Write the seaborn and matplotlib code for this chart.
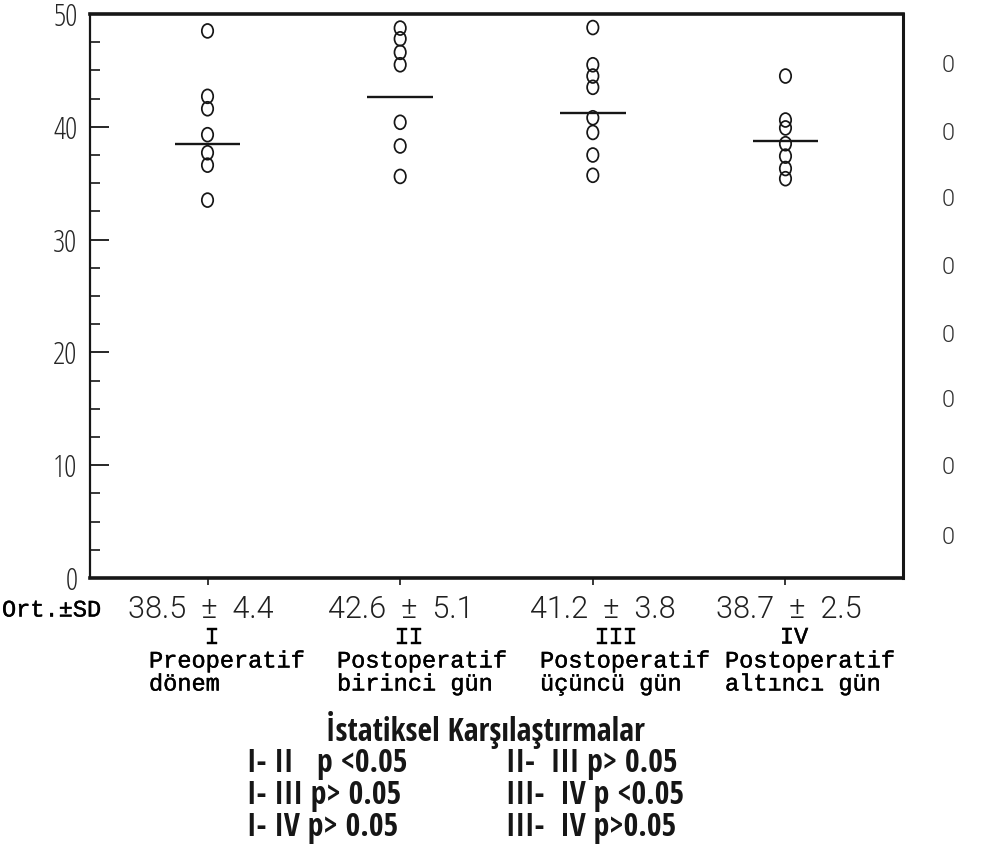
import numpy as np
import pandas as pd
import matplotlib
matplotlib.use("Agg")
import matplotlib.pyplot as plt
import matplotlib.transforms as mtrans
import matplotlib.patheffects as pe
from matplotlib import font_manager as fm
from matplotlib.path import Path
from matplotlib.ticker import MultipleLocator
import seaborn as sns

# ---------------- data ----------------
groups = ["I", "II", "III", "IV"]
vals_I = [48.5, 42.7, 41.6, 39.3, 37.7, 36.6, 33.5]
vals_II = [48.75, 47.8, 46.6, 45.5, 40.4, 38.3, 35.6]
vals_III = [48.8, 45.5, 44.5, 43.5, 40.8, 39.5, 37.5, 35.7]
vals_IV = [44.5, 40.6, 39.9, 38.5, 37.4, 36.3, 35.4]
means = [38.5, 42.6, 41.2, 38.7]
sds = [4.4, 5.1, 3.8, 2.5]
period_line1 = ["Preoperatif", "Postoperatif", "Postoperatif", "Postoperatif"]
period_line2 = ["dönem", "birinci gün", "üçüncü gün", "altıncı gün"]
y_ticks = [0, 10, 20, 30, 40, 50]
stats_title = "İstatiksel Karşılaştırmalar"
comparisons_left = ["I- II   p <0.05", "I- III p> 0.05", "I- IV p> 0.05"]
comparisons_right = ["II-  III p> 0.05", "III-  IV p <0.05", "III-  IV p>0.05"]
row_label = "Ort.±SD"

all_vals = [vals_I, vals_II, vals_III, vals_IV]
df = pd.DataFrame({
    "grp": [g for g, v in zip(groups, all_vals) for _ in v],
    "val": [x for v in all_vals for x in v],
})


# ---------------- fonts ----------------
def choose(preds, fallback):
    for pred in preds:
        for f in fm.fontManager.ttflist:
            try:
                if pred(f):
                    return fm.FontProperties(fname=f.fname)
            except Exception:
                pass
    return fm.FontProperties(**fallback)


def low(f):
    return f.fname.lower().replace(" ", "").replace("-", "").replace("_", "")


cond_light = choose([
    lambda f: "opensans" in low(f) and "cond" in low(f) and "light" in low(f) and "italic" not in low(f),
    lambda f: f.name == "Liberation Sans Narrow" and f.weight in (400, "normal", "regular") and f.style == "normal",
    lambda f: f.name == "DejaVu Sans" and f.stretch == "condensed" and f.weight in (400, "normal", "book") and f.style == "normal",
], dict(family="DejaVu Sans"))

plain_light = choose([
    lambda f: f.name == "Roboto" and f.weight in (300, "light") and f.style == "normal" and f.stretch == "normal",
    lambda f: f.name == "Open Sans" and f.weight in (300, "light") and f.style == "normal" and f.stretch == "normal",
    lambda f: f.name == "Roboto" and f.weight in (400, "normal", "regular") and f.style == "normal",
], dict(family="DejaVu Sans"))

bold_fp = choose([
    lambda f: f.name == "Liberation Sans Narrow" and f.weight in (700, "bold") and f.style == "normal",
    lambda f: "opensans" in low(f) and "cond" in low(f) and "bold" in low(f) and "italic" not in low(f),
    lambda f: f.name == "DejaVu Sans" and f.stretch == "condensed" and f.weight in (700, "bold") and f.style == "normal",
    lambda f: f.name == "Liberation Sans" and f.weight in (700, "bold") and f.style == "normal",
], dict(family="DejaVu Sans", weight="bold"))

mono = ["Liberation Mono", "DejaVu Sans Mono"]
type_fx = [pe.withStroke(linewidth=0.3, foreground="black")]


def sized(fp, size):
    p = fp.copy()
    p.set_size(size)
    return p


# ---------------- figure ----------------
W, H = 982, 861
fig = plt.figure(figsize=(W / 100, H / 100), dpi=100)
fig.patch.set_facecolor("white")
renderer = fig.canvas.get_renderer()


def fx(px):
    return px / W


def fy(py):
    return 1 - py / H


def fit_size(text, fp, target_px, max_size):
    t = fig.text(0, 0, text, fontproperties=sized(fp, 20))
    w = t.get_window_extent(renderer=renderer).width
    t.remove()
    return min(max_size, 20 * target_px / w)


ax = fig.add_axes([fx(90), fy(578), fx(903) - fx(90), fy(14) - fy(578)])
ax.set_facecolor("white")
ink = "#161616"

oval = Path.unit_circle().transformed(mtrans.Affine2D().scale(0.82, 1.0))
sns.scatterplot(data=df, x="grp", y="val", ax=ax, marker=oval, s=100,
                color=ink, linewidth=1.2, legend=False)
for coll in ax.collections:
    coll.set_facecolor("none")
    coll.set_edgecolor(ink)
    coll.set_linewidth(1.25)

pos = np.arange(len(groups))
ax.hlines(means, pos - 0.17, pos + 0.17, color=ink, lw=1.7)

ax.set_xlim(-0.61, 3.61)
ax.set_ylim(0, 50)
ax.set_xlabel("")
ax.set_ylabel("")

ax.set_yticks(y_ticks)
ax.yaxis.set_minor_locator(MultipleLocator(2.5))
ax.tick_params(axis="y", which="major", direction="in", length=14, width=1.3,
               pad=9, colors=ink)
ax.tick_params(axis="y", which="minor", direction="in", length=7, width=1.2, colors=ink)
tfp = sized(cond_light, 22)
for lab in ax.get_yticklabels():
    lab.set_fontproperties(tfp)
    lab.set_color("#262626")
ax.set_xticks(pos)
ax.set_xticklabels([])
ax.tick_params(axis="x", which="major", direction="out", length=5, width=1.2, colors=ink)
ax.tick_params(axis="x", which="minor", bottom=False)

for side, lw in {"top": 2.6, "bottom": 2.6, "right": 2.2, "left": 1.6}.items():
    ax.spines[side].set_linewidth(lw)
    ax.spines[side].set_color(ink)

# ---------------- texts below ----------------
fig.text(fx(2), fy(610), row_label, family=mono, fontsize=17, color="black",
         va="center", path_effects=type_fx)
mean_size = fit_size("41.2  ±  3.8", plain_light, 145, 25)
mfp = sized(plain_light, mean_size)
mean_left = [128, 328, 530, 716]
num_center = [212, 409, 616, 794]
per_left = [149, 337, 540, 725]
for i in range(4):
    fig.text(fx(mean_left[i]), fy(610), f"{means[i]}  ±  {sds[i]}", fontproperties=mfp,
             color="#202020", va="center")
    fig.text(fx(num_center[i]), fy(637), groups[i], family=mono, fontsize=17,
             color="black", va="center", ha="center", path_effects=type_fx)
    fig.text(fx(per_left[i]), fy(661), period_line1[i], family=mono, fontsize=17,
             color="black", va="center", path_effects=type_fx)
    fig.text(fx(per_left[i]), fy(684), period_line2[i], family=mono, fontsize=17,
             color="black", va="center", path_effects=type_fx)

bsize = fit_size(stats_title, bold_fp, 318, 25)
bfp = sized(bold_fp, bsize)
fig.text(fx(485), fy(730), stats_title, fontproperties=bfp, color=ink,
         ha="center", va="center")
row_y = [763, 795, 827]
for i in range(3):
    fig.text(fx(247), fy(row_y[i]), comparisons_left[i], fontproperties=bfp,
             color=ink, va="center")
    fig.text(fx(506), fy(row_y[i]), comparisons_right[i], fontproperties=bfp,
             color=ink, va="center")

# cut-off tick labels of the neighbouring figure at the page edge
rfp = sized(plain_light, 17)
for py in [66, 133, 200, 268, 335, 401, 468, 537]:
    fig.text(fx(948), fy(py), "0", fontproperties=rfp, color="#333333",
             ha="center", va="center")

fig.savefig("out.png", dpi=100, facecolor="white")
